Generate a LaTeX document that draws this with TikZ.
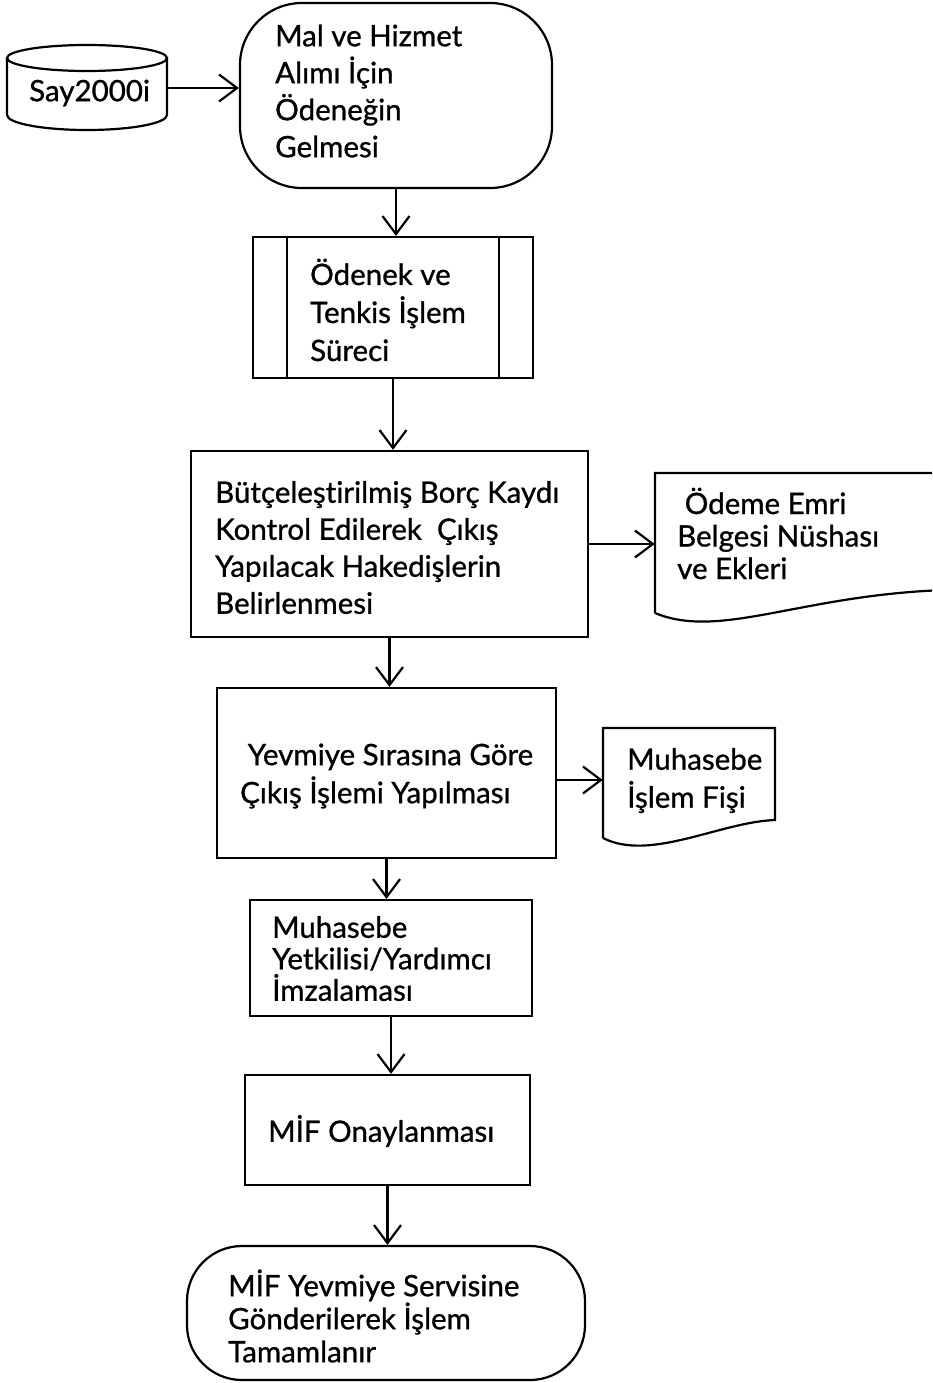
\documentclass[tikz,border=0pt]{standalone}
\usepackage{fontspec}
\setmainfont{Lato}[Ligatures=NoCommon,FakeBold=0.9]
\usetikzlibrary{arrows.meta,calc}
\tikzset{
  ln/.style={line width=2.2pt},
  arr/.style={ln,-{Straight Barb[length=18pt,width=27pt,line width=2.2pt]}},
  procbox/.style={draw,ln,rectangle,inner sep=0},
  termbox/.style={draw,ln,rectangle,inner sep=0},
  hold/.style={rectangle,inner sep=0,draw=none},
  txt/.style={inner sep=0,anchor=west,align=left},
}
\begin{document}
\begin{tikzpicture}[x=1pt,y=-1pt]
\useasboundingbox (0,0) rectangle (932,1383);
\clip (0,0) rectangle (932,1383);
\fill[white] (0,0) rectangle (932,1383);

% cylinder Say2000i
\node[hold,minimum width=160pt,minimum height=80pt] (cyl) at (87,88) {};
\draw[ln] (7,58) -- (7,115) arc[start angle=180,end angle=360,x radius=80,y radius=-15] -- (167,58);
\draw[ln] (87,58) ellipse[x radius=80,y radius=13];
\node[txt,font=\fontsize{29.5}{33}\selectfont] (cyltxt) at (29,93) {Say2000i};

% start terminator
\node[termbox,rounded corners=62pt,minimum width=312pt,minimum height=185pt] (t1) at (396,95.5) {};
\node[txt,font=\fontsize{29.5}{37}\selectfont] (t1txt) at (275,91) {Mal ve Hizmet\\Alımı İçin\\Ödeneğin\\Gelmesi};

% predefined process
\node[procbox,minimum width=280pt,minimum height=141pt] (b2) at (393,307.5) {};
\draw[ln] ([xshift=35pt]b2.north west) -- ([xshift=35pt]b2.south west);
\draw[ln] ([xshift=-35pt]b2.north east) -- ([xshift=-35pt]b2.south east);
\node[txt,font=\fontsize{29.5}{38}\selectfont] (b2txt) at (310,310) {Ödenek ve\\Tenkis İşlem\\Süreci};

% box 3
\node[procbox,minimum width=397pt,minimum height=186pt] (b3) at (389.5,544) {};
\node[txt,font=\fontsize{29.5}{37}\selectfont] (b3txt) at (215,547.5) {Bütçeleştirilmiş Borç Kaydı\\Kontrol Edilerek\ \ Çıkış\\Yapılacak Hakedişlerin\\Belirlenmesi};

% document 1
\node[hold,minimum width=290pt,minimum height=150pt] (d1) at (800,545) {};
\draw[ln] (655,613) -- (655,473) -- (945,473) -- (945,590) .. controls (800,595) and (720,640) .. (655,613);
\node[txt,font=\fontsize{29.5}{32.5}\selectfont] (d1txt) at (677,533.5) {\ Ödeme Emri\\Belgesi Nüshası\\ve Ekleri};

% box 4
\node[procbox,minimum width=339pt,minimum height=170pt] (b4) at (386.5,773) {};
\node[txt,font=\fontsize{29.5}{38}\selectfont] (b4txt) at (240,776) {\ Yevmiye Sırasına Göre\\Çıkış İşlemi Yapılması};

% document 2
\node[hold,minimum width=172pt,minimum height=110pt] (d2) at (689,783) {};
\draw[ln] (603,838) -- (603,728) -- (775,728) -- (775,820) .. controls (720,822) and (650,862) .. (603,838);
\node[txt,font=\fontsize{29.5}{38}\selectfont] (d2txt) at (627,780.5) {Muhasebe\\İşlem Fişi};

% box 5
\node[procbox,minimum width=282pt,minimum height=116pt] (b5) at (391,958) {};
\node[txt,font=\fontsize{29.5}{31.5}\selectfont] (b5txt) at (272,958.5) {Muhasebe\\Yetkilisi/Yardımcı\\İmzalaması};

% box 6
\node[procbox,minimum width=285pt,minimum height=110pt] (b6) at (387.5,1130) {};
\node[txt,font=\fontsize{29.5}{33}\selectfont] (b6txt) at (268,1131) {MİF Onaylanması};

% end terminator
\node[termbox,rounded corners=55pt,minimum width=398pt,minimum height=134pt] (t2) at (386,1313) {};
\node[txt,font=\fontsize{29.5}{33}\selectfont] (t2txt) at (228,1316) {MİF Yevmiye Servisine\\Gönderilerek İşlem\\Tamamlanır};

% connectors
\draw[arr] (cyl.east) -- (cyl.east -| t1.west);
\draw[arr] (t1.south) -- (t1.south |- b2.north);
\draw[arr] (b2.south) -- (b2.south |- b3.north);
\draw[arr] (b3.east) -- (b3.east -| d1.west);
\draw[arr] (b3.south) -- (b3.south |- b4.north);
\draw[arr] ([yshift=-7pt]b4.east) -- ([yshift=-7pt]b4.east -| d2.west);
\draw[arr] (b4.south) -- (b4.south |- b5.north);
\draw[arr] (b5.south) -- (b5.south |- b6.north);
\draw[arr] (b6.south) -- (b6.south |- t2.north);
\end{tikzpicture}
\end{document}
